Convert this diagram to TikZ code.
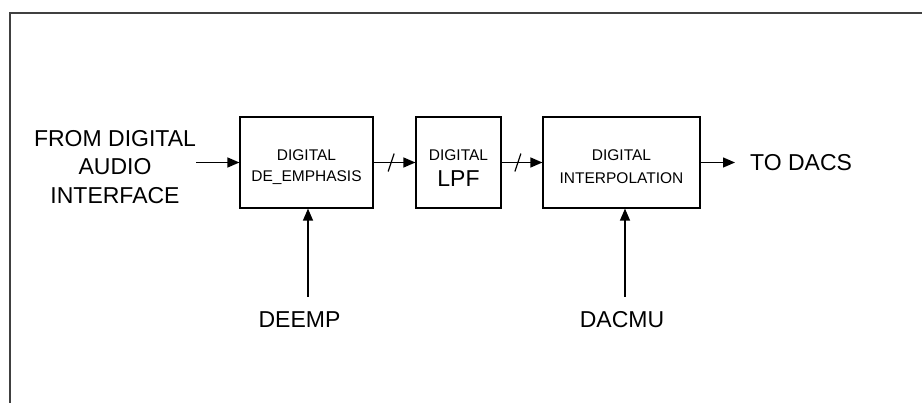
\documentclass[tikz,border=0pt]{standalone}
\usepackage{fontspec}
\setmainfont{Liberation Sans}
\usetikzlibrary{arrows.meta}

\begin{document}
\begin{tikzpicture}[x=1pt, y=-1pt, line cap=butt,
    blk/.style={draw, line width=1.2pt, minimum height=91pt, inner sep=0pt},
    inside/.style={font=\fontsize{15.5}{21}\selectfont, align=center, yshift=-5pt},
    sig/.style={line width=1.3pt, -{Triangle[length=12pt, width=10pt]}},
    bigtext/.style={font=\fontsize{23}{28.5}\selectfont, inner sep=0pt, align=center}]
    \useasboundingbox (0,0) rectangle (922,403);
    \draw[line width=2pt, black!75] (922,13) -- (10,13) -- (10,403);

    % processing chain
    \node[blk, minimum width=133pt, label={[inside]center:DIGITAL\\DE\_EMPHASIS}] (deemph) at (306.5,162.5) {};
    \node[blk, minimum width=85pt, label={[inside, yshift=-1pt]center:DIGITAL\\[5pt]\fontsize{23}{26}\selectfont LPF}] (lpf) at (458.5,162.5) {};
    \node[blk, minimum width=157pt, label={[inside, yshift=1pt]center:DIGITAL\\[2pt]INTERPOLATION}] (interp) at (621.5,162.5) {};

    % labels
    \node[bigtext] (src) at (115,167) {FROM DIGITAL\\AUDIO\\INTERFACE};
    \node[bigtext, anchor=west] (dacs) at (750,162.5) {TO DACS};
    \node[bigtext] (deemp) at (299.5,320) {DEEMP};
    \node[bigtext] (dacmu) at (622,320) {DACMU};
    \coordinate (ctlA) at (308,297);
    \coordinate (ctlB) at (625,297);

    \draw[sig] (src.east |- deemph.west) -- (deemph.west);
    \draw[sig] (deemph) -- coordinate[pos=0.42] (busA) (lpf);
    \draw[sig] (lpf) -- coordinate[pos=0.4] (busB) (interp);
    \draw[sig, shorten >=15pt] (interp) -- (dacs);
    \draw[line width=1.2pt] ([shift={(-3,9)}]busA) -- ([shift={(3,-9)}]busA);
    \draw[line width=1.2pt] ([shift={(-3,9)}]busB) -- ([shift={(3,-9)}]busB);

    \draw[sig] (ctlA) -- (ctlA |- deemph.south);
    \draw[sig] (ctlB) -- (ctlB |- interp.south);
\end{tikzpicture}
\end{document}
